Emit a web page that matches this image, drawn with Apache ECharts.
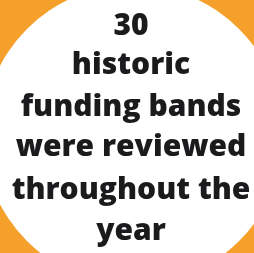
<!DOCTYPE html>
<html>
<head>
<meta charset="utf-8">
<script src="https://cdn.jsdelivr.net/npm/echarts@6/dist/echarts.min.js"></script>
<style>
  html, body { margin: 0; padding: 0; background: #f5a02b; }
  #main { width: 254px; height: 253px; }
</style>
</head>
<body>
<div id="main"></div>
<script>
var count = 30
var lines = [String(count), 'historic', 'funding bands', 'were reviewed', 'throughout the', 'year']
var lineY = [26, 65, 107, 147, 190, 231]

var myChart = echarts.init(document.getElementById('main'))
var option
option = {
  backgroundColor: '#f5a02b',
  graphic: [
    {
      type: 'circle',
      shape: { cx: 133, cy: 135, r: 150 },
      style: { fill: '#ffffff' }
    }
  ].concat(lines.map(function (t, i) {
    return {
      type: 'text',
      x: 131,
      y: lineY[i],
      style: {
        text: t,
        fill: '#1b1b1d',
        font: '800 30px "Open Sans"',
        align: 'center',
        verticalAlign: 'middle'
      }
    }
  }))
}
option && myChart.setOption(option)
</script>
</body>
</html>
